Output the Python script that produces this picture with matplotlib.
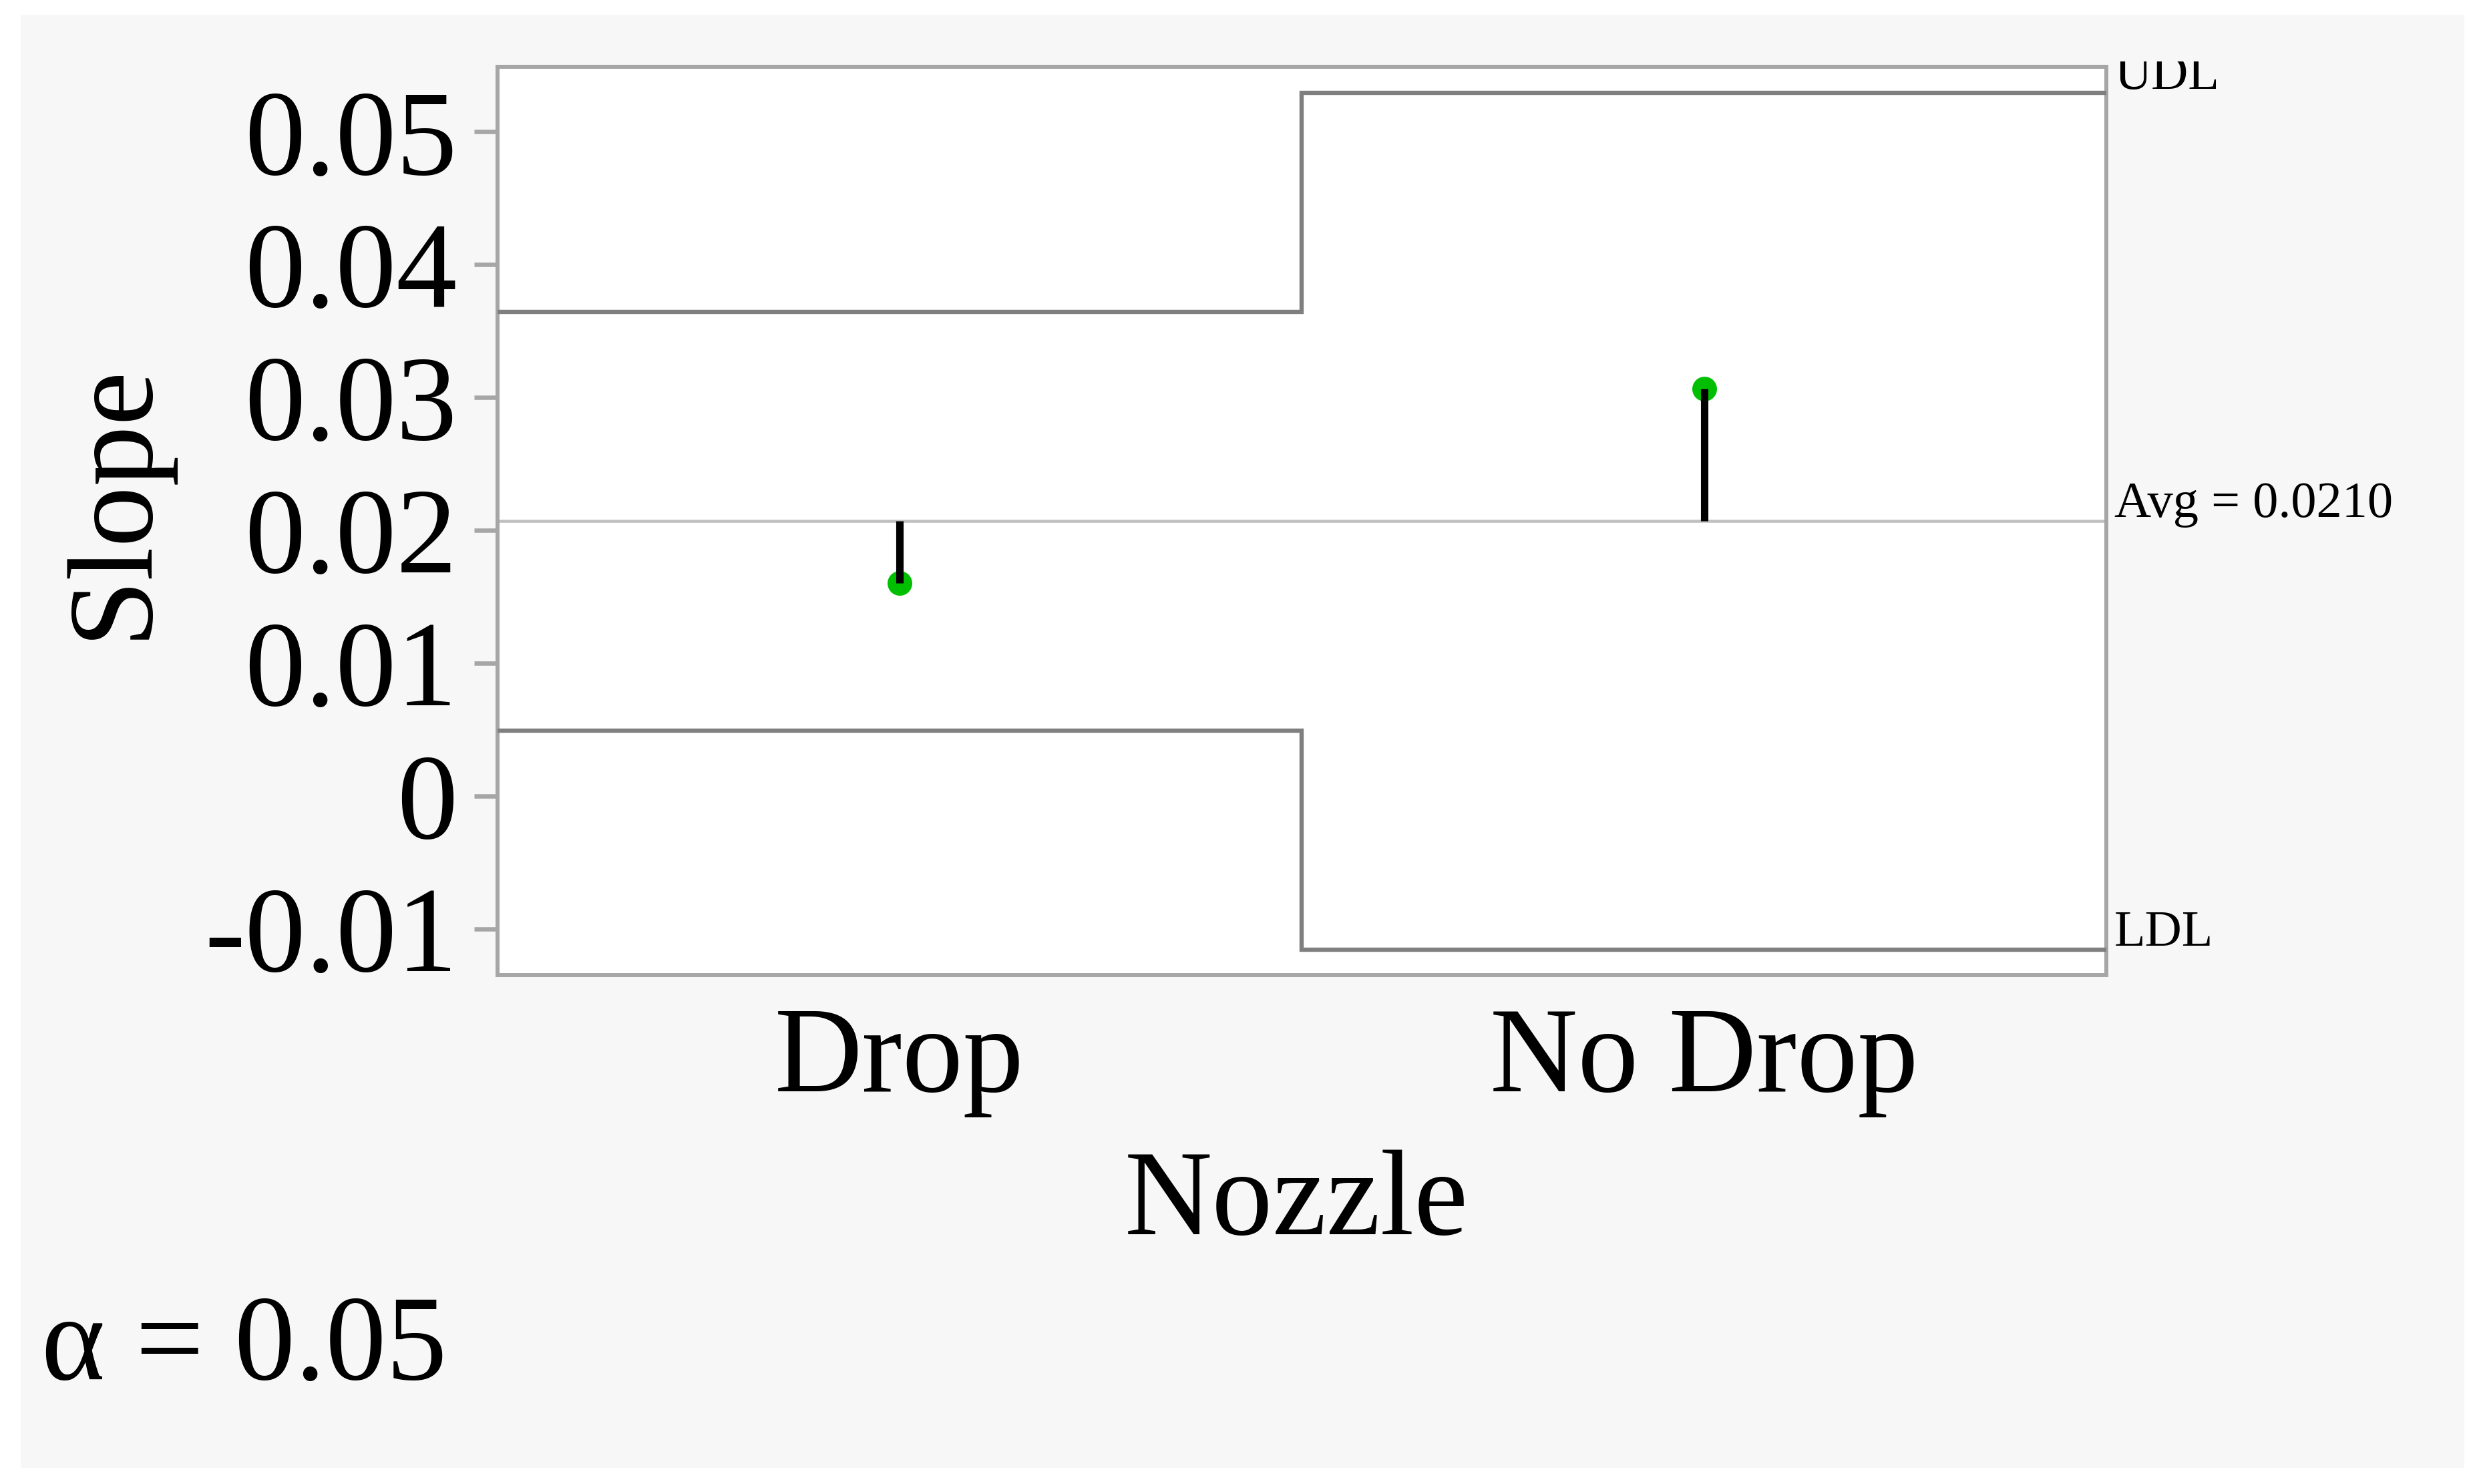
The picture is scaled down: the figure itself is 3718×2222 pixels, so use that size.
import numpy as np
import matplotlib
matplotlib.use("Agg")
import matplotlib.pyplot as plt
from matplotlib.patches import Rectangle
from matplotlib.transforms import Bbox, TransformedBbox

# ---- data ----
categories = ["Drop", "No Drop"]
slope_means = [0.01601, 0.03067]
udl = [0.03644, 0.05293]
ldl = [0.00492, -0.01158]
center_value = 0.02070
avg_label = "Avg = 0.0210"
alpha_label = "α = 0.05"
y_ticks = [-0.01, 0, 0.01, 0.02, 0.03, 0.04, 0.05]
y_ticklabels = ["-0.01", "0", "0.01", "0.02", "0.03", "0.04", "0.05"]

W, H = 3718, 2222
DPI = 100
plt.rcParams["font.family"] = ["Liberation Serif", "DejaVu Serif"]

fig = plt.figure(figsize=(W / DPI, H / DPI), dpi=DPI, facecolor="white")

# light grey panel
fig.patches.append(Rectangle((31 / W, 1 - 2198 / H), (3690 - 31) / W, (2198 - 22) / H,
                             transform=fig.transFigure, facecolor="#f7f7f7",
                             edgecolor="none", zorder=-10))

ax_l, ax_r, ax_t, ax_b = 744.5, 3154, 100.4, 1460
ax = fig.add_axes([ax_l / W, 1 - ax_b / H, (ax_r - ax_l) / W, (ax_b - ax_t) / H])
ax.set_facecolor("white")

x = np.arange(len(categories))
edges = np.arange(len(categories) + 1) - 0.5

ax.axhline(center_value, color="#c0c0c0", lw=3.3, zorder=2)
ax.stairs(udl, edges, baseline=None, color="#7f7f7f", lw=4.6, zorder=3)
ax.stairs(ldl, edges, baseline=None, color="#7f7f7f", lw=4.6, zorder=3)
ax.plot(x, slope_means, "o", color="#00bf00", ms=26.6, mec="none", zorder=4)
ax.vlines(x, center_value, slope_means, color="black", lw=8, zorder=5)

ax.set_xlim(-0.5, 1.5)
ax.set_ylim(-0.01348, 0.05487)

for s in ax.spines.values():
    s.set_color("#a6a6a6")
    s.set_linewidth(4.3)

ax.set_yticks(y_ticks)
ax.set_yticklabels(y_ticklabels)
ax.set_xticks(x)
ax.set_xticklabels(categories)
ax.tick_params(axis="y", direction="out", length=25, width=4.7, color="#a6a6a6",
               labelsize=131, pad=18)
ax.tick_params(axis="x", length=0, labelsize=131, pad=34)

ax.set_xlabel("Nozzle", fontsize=131, va="baseline")
ax.xaxis.set_label_coords((1941 - ax_l) / (ax_r - ax_l), -(1848 - ax_b) / (ax_b - ax_t))
ax.set_ylabel("Slope", fontsize=131, va="baseline")
ax.yaxis.set_label_coords((216 - ax_l) / (ax_r - ax_l), (ax_b - 750) / (ax_b - ax_t))

# limit / average labels at the right
ytrans = ax.get_yaxis_transform()
clip = TransformedBbox(Bbox([[0, 0], [1, 1 - 92 / H]]), fig.transFigure)
for label, val in [("UDL", udl[-1]), (avg_label, center_value), ("LDL", ldl[-1])]:
    t = ax.annotate(label, xy=(1, val), xycoords=ytrans, xytext=(8.6, 4.3),
                    textcoords="offset points", ha="left", va="baseline",
                    fontsize=55, annotation_clip=False)
    t.set_clip_on(True)
    t.set_clip_box(clip)

fig.text(62 / W, 1 - 2065 / H, alpha_label, fontsize=131, ha="left", va="baseline")

fig.savefig("out.png", dpi=DPI, facecolor="white")
